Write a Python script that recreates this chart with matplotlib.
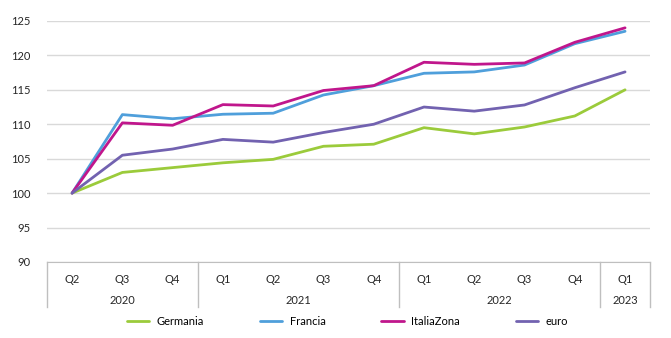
import matplotlib.pyplot as plt
from matplotlib.transforms import blended_transform_factory

plt.rcParams["font.family"] = ["Lato", "DejaVu Sans"]

quarters = ["Q2", "Q3", "Q4", "Q1", "Q2", "Q3", "Q4", "Q1", "Q2", "Q3", "Q4", "Q1"]
years = ["2020", "2021", "2022", "2023"]
year_counts = [3, 4, 4, 1]

germania = [100, 103.0, 103.7, 104.4, 104.9, 106.8, 107.1, 109.5, 108.6, 109.6, 111.2, 115.0]
francia = [100, 111.4, 110.8, 111.45, 111.6, 114.25, 115.6, 117.4, 117.6, 118.6, 121.7, 123.5]
italia = [100, 110.2, 109.85, 112.85, 112.65, 114.9, 115.6, 119.0, 118.7, 118.9, 121.9, 124.0]
euro = [100, 105.5, 106.4, 107.8, 107.4, 108.8, 110.0, 112.5, 111.9, 112.8, 115.3, 117.6]

series = [
    ("Germania", germania, "#9BCB3B"),
    ("Francia", francia, "#4F9FDB"),
    ("ItaliaZona", italia, "#C0168C"),
    ("euro", euro, "#7262B0"),
]


def main():
    fig = plt.figure(figsize=(6.71, 3.38), dpi=100)
    ax = fig.add_axes([0.070, 0.225, 0.899, 0.713])

    x = list(range(len(quarters)))
    for name, vals, color in series:
        ax.plot(x, vals, color=color, lw=2.0, label=name, solid_capstyle="round")

    ax.set_xlim(-0.5, len(quarters) - 0.5)
    ax.set_ylim(90, 125)
    ax.set_yticks(range(90, 126, 5))
    ax.grid(axis="y", color="#D9D9D9", lw=1)
    ax.set_axisbelow(True)
    for s in ["top", "right", "left"]:
        ax.spines[s].set_visible(False)
    ax.spines["bottom"].set_color("#BFBFBF")
    ax.tick_params(axis="y", length=0, labelsize=8, colors="#262626", pad=12)
    ax.set_xticks(x)
    ax.set_xticklabels(quarters)
    ax.tick_params(axis="x", length=0, labelsize=8, colors="#262626", pad=9)

    # year labels and separators under the axis
    trans = blended_transform_factory(ax.transData, ax.transAxes)
    start = 0
    bounds = [-0.5]
    for year, n in zip(years, year_counts):
        mid = start + (n - 1) / 2
        ax.text(mid, -0.158, year, transform=trans, ha="center", va="center",
                fontsize=8, color="#262626")
        start += n
        bounds.append(start - 0.5)
    for b in bounds:
        ax.plot([b, b], [0, -0.187], transform=trans, color="#BFBFBF", lw=1,
                clip_on=False)

    fig.legend(loc="center", bbox_to_anchor=(0.518, 0.05), ncol=4, frameon=False,
               fontsize=8, handlelength=2.0, columnspacing=5.0, handletextpad=0.7)

    fig.savefig("out.png", dpi=100)
    plt.close(fig)


if __name__ == "__main__":
    main()
